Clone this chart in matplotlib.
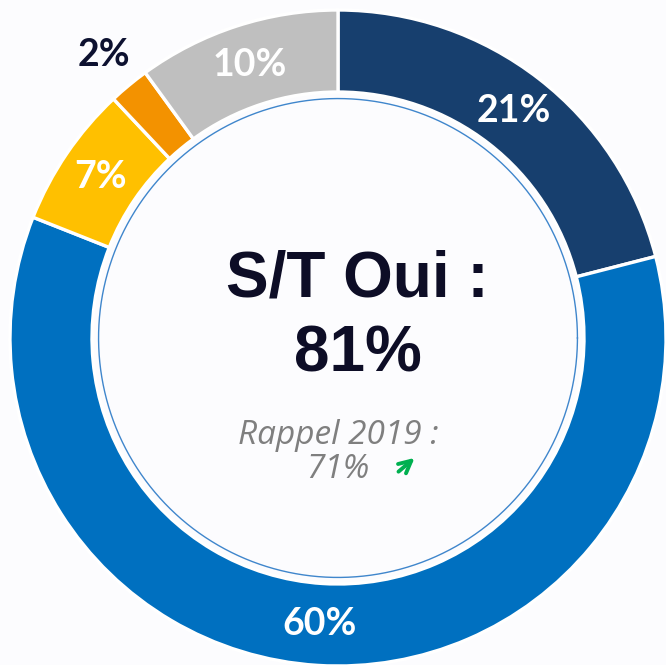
import matplotlib.pyplot as plt
import numpy as np

labels = ['21%', '60%', '7%', '2%', '10%']
values = [21, 60, 7, 2, 10]
colors = ['#173F6E', '#0070C0', '#FFC000', '#F39200', '#BFBFBF']
title_txt = 'S/T Oui :\n81%'
rappel_txt = 'Rappel 2019 :\n71%'

bg = '#FCFCFE'
fig = plt.figure(figsize=(6.66, 6.65), dpi=100, facecolor=bg)
ax = fig.add_axes([0, 0, 1, 1])
ax.set_facecolor(bg)

wedges, _ = ax.pie(values, radius=1.0, startangle=90, counterclock=False,
                   colors=colors,
                   wedgeprops=dict(width=0.25, edgecolor='white', linewidth=2.4))

# pixel layout: center at (338, 338) from top-left, outer radius 328 px
R = 328.0
cx, cy = 338.0, 338.0
ax.set_xlim(-cx / R, (666 - cx) / R)
ax.set_ylim(-(665 - cy) / R, cy / R)
ax.set_aspect('equal')
ax.axis('off')

# inner thin circle
t = np.linspace(0, 2 * np.pi, 400)
ax.plot(0.73 * np.cos(t), 0.73 * np.sin(t), color='#3F86CC', lw=1.0)

# slice labels
total = sum(values)
start = 90.0
for lab, v in zip(labels, values):
    mid = np.deg2rad(start - v / total * 360 / 2)
    start -= v / total * 360
    if v < 5:
        r, col = 1.12, '#0D1130'
    else:
        r, col = 0.875, 'white'
    ax.text(r * np.cos(mid), r * np.sin(mid), lab, ha='center', va='center',
            fontsize=27, fontweight='bold', color=col, family='Lato')

ax.text(0.06, 0.065, title_txt, ha='center', va='center', fontsize=46,
        fontweight='bold', color='#0D0D26', family='Liberation Sans',
        linespacing=1.32)
ax.text(0.0, -0.35, rappel_txt, ha='center', va='center', fontsize=24,
        style='italic', color='#7F7F7F', family='Open Sans', linespacing=1.05)
ax.annotate('', xy=(0.24, -0.36), xytext=(0.178, -0.413),
            arrowprops=dict(arrowstyle='->', color='#00B050', lw=2.8,
                            mutation_scale=22))

fig.savefig('out.png', dpi=100, facecolor=bg)
